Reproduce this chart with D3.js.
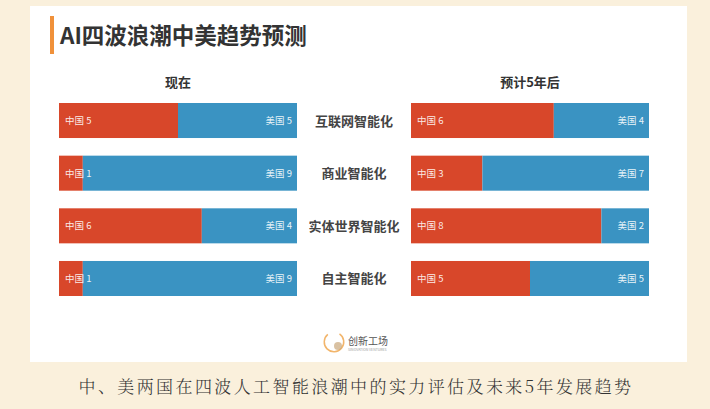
<!DOCTYPE html>
<html><head><meta charset="utf-8">
<script src="https://cdn.jsdelivr.net/npm/d3@7"></script>
<style>
html,body{margin:0;padding:0;background:#FAF0DC;}
svg{display:block;font-family:"Noto Sans CJK SC","Noto Sans",sans-serif;}
</style></head>
<body><svg id="c" width="710" height="409"></svg>
<script>
const categories = ["互联网智能化","商业智能化","实体世界智能化","自主智能化"];
const chinaNow = [5,1,6,1];
const usNow = [5,9,4,9];
const chinaFuture = [6,3,8,5];
const usFuture = [4,7,2,5];
const panels = ["现在","预计5年后"];
const title = "AI四波浪潮中美趋势预测";
const caption = "中、美两国在四波人工智能浪潮中的实力评估及未来5年发展趋势";

const svg = d3.select("#c");
svg.append("rect").attr("width",710).attr("height",409).attr("fill","#FAF0DC");
svg.append("rect").attr("x",30).attr("y",6).attr("width",657).attr("height",356).attr("fill","#FFFFFF");

svg.append("rect").attr("x",50).attr("y",16).attr("width",4).attr("height",38).attr("fill","#F0913A");
svg.append("text").attr("x",60).attr("y",44).attr("font-size",22.5).attr("font-weight",700)
  .attr("fill","#333").text(title);

const y = d3.scaleBand().domain(categories).range([103,296]).paddingInner(0.335).paddingOuter(0);
const xL = d3.scaleLinear().domain([0,10]).range([59,297]);
const xR = d3.scaleLinear().domain([0,10]).range([411,649]);
const red = "#D8472A", blue = "#3A93C2";

function drawPanel(x, cn, us, header){
  svg.append("text").attr("x",(x.range()[0]+x.range()[1])/2).attr("y",87)
    .attr("text-anchor","middle").attr("font-size",13).attr("font-weight",700).attr("fill","#333").text(header);
  const g = svg.append("g");
  categories.forEach((c,i)=>{
    g.append("rect").attr("x",x(0)).attr("y",y(c)).attr("width",x(cn[i])-x(0)).attr("height",y.bandwidth()).attr("fill",red);
    g.append("rect").attr("x",x(cn[i])).attr("y",y(c)).attr("width",x(cn[i]+us[i])-x(cn[i])).attr("height",y.bandwidth()).attr("fill",blue);
    g.append("text").attr("x",x(0)+6).attr("y",y(c)+y.bandwidth()/2+3.5).attr("font-size",9.5)
      .attr("fill","#fff").attr("fill-opacity",0.9).text("中国 "+cn[i]);
    g.append("text").attr("x",x(cn[i]+us[i])-5).attr("y",y(c)+y.bandwidth()/2+3.5).attr("font-size",9.5)
      .attr("text-anchor","end").attr("fill","#fff").attr("fill-opacity",0.9).text("美国 "+us[i]);
  });
}
drawPanel(xL, chinaNow, usNow, panels[0]);
drawPanel(xR, chinaFuture, usFuture, panels[1]);

categories.forEach(c=>{
  svg.append("text").attr("x",354).attr("y",y(c)+y.bandwidth()/2+5).attr("text-anchor","middle")
    .attr("font-size",13).attr("font-weight",700).attr("fill","#444").text(c);
});

// logo
const lg = svg.append("g");
lg.append("path").attr("d",d3.arc()({innerRadius:9,outerRadius:10.5,startAngle:0.6,endAngle:5.6}))
  .attr("transform","translate(334,342)").attr("fill","#F2B56B");
lg.append("circle").attr("cx",338).attr("cy",346).attr("r",4).attr("fill","#C9A77A").attr("opacity",0.7);
lg.append("text").attr("x",348).attr("y",345).attr("font-size",10).attr("fill","#555").text("创新工场");
lg.append("text").attr("x",348).attr("y",351).attr("font-size",3.5).attr("fill","#999").text("SINOVATION VENTURES");

svg.append("text").attr("x",356).attr("y",393).attr("text-anchor","middle")
  .attr("font-family","'Noto Serif CJK SC','Noto Sans CJK SC',serif").attr("font-size",17).attr("font-weight",300)
  .attr("letter-spacing",2.4).attr("fill","#333").text(caption);
</script></body></html>
